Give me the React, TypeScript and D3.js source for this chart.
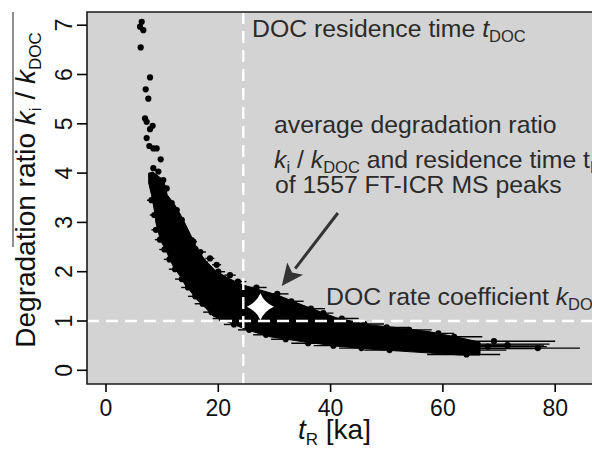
import * as d3 from 'd3';

// FT-ICR MS peaks: degradation ratio vs residence time
const tTicks = [0, 20, 40, 60, 80];
const ratioTicks = [0, 1, 2, 3, 4, 5, 6, 7];

const tDOC = 24.45; // DOC residence time (ka)
const kRef = 1; // DOC rate coefficient ratio
const starPeak = [27.5, 1.29]; // average of all peaks
const arrowFrom = [41.3, 3.19];
const arrowTo = [31.3, 1.71];

// dense core of the point cloud: top/right edge and bottom/left edge
const bandUpper = [
  [8.37, 4.02], [10.3, 3.85], [10.9, 3.56], [12.3, 3.35], [13.5, 3.11],
  [14.8, 2.81], [16.1, 2.5], [17.6, 2.24], [19.41, 2.03], [21.73, 1.87],
  [24.4, 1.73], [27.43, 1.63], [30.45, 1.53], [35.08, 1.32], [41.14, 1.06],
  [47.02, 0.92], [52.36, 0.86], [57.7, 0.78], [63.05, 0.66], [66.61, 0.57],
];
const bandLower = [
  [7.6, 4.0], [7.6, 3.8], [8.1, 3.56], [8.6, 3.25], [8.9, 2.99],
  [9.7, 2.64], [10.8, 2.4], [12.0, 2.1], [13.2, 1.91], [14.1, 1.73],
  [15.0, 1.61], [16.21, 1.43], [17.63, 1.28], [19.06, 1.1], [20.84, 1.02],
  [22.97, 0.92], [25.11, 0.82], [29.21, 0.68], [35.08, 0.58], [41.14, 0.49],
  [47.02, 0.43], [52.36, 0.39], [57.7, 0.35], [63.05, 0.31], [66.61, 0.31],
];

// single peaks: [t, ratio, tLow, tHigh]
const outerPeaks = [
  [6.36, 7.07, 6.1, 6.6], [6.06, 6.97, 5.8, 6.3], [6.65, 6.9, 6.4, 6.9],
  [6.18, 6.55, 5.9, 6.4], [7.84, 5.94, 7.6, 8.1], [7.07, 5.7, 6.8, 7.3],
  [7.54, 5.51, 7.3, 7.8], [6.95, 5.11, 6.7, 7.2], [7.24, 5.04, 7.0, 7.5],
  [8.31, 4.96, 8.0, 8.6], [7.84, 4.89, 7.6, 8.1], [7.24, 4.71, 7.0, 7.5],
  [7.72, 4.55, 7.4, 8.0], [8.43, 4.5, 8.1, 8.7], [9.02, 4.5, 8.7, 9.3],
  [9.74, 4.28, 9.4, 10.1], [8.43, 4.1, 8.1, 8.8], [9.32, 4.03, 8.9, 9.7],
  [8.13, 3.93, 7.7, 8.5], [10.2, 3.86, 9.8, 10.6], [10.81, 3.69, 10.4, 11.2],
  [11.7, 3.39, 11.3, 12.1], [12.59, 3.25, 12.1, 13.1], [13.48, 3.05, 13.0, 14.0],
  [13.18, 2.85, 12.6, 13.8], [15.26, 2.64, 14.6, 15.9], [15.85, 2.47, 15.2, 16.5],
  [15.55, 2.61, 14.9, 16.2], [18.52, 2.27, 17.7, 19.3], [19.71, 2.14, 18.9, 20.5],
  [17.33, 2.2, 16.6, 18.1], [22.08, 1.93, 21.1, 23.1],
];
const edgePeaks = [
  [8.1, 3.45, 7.3, 8.9], [8.6, 3.15, 7.8, 9.4], [8.9, 2.85, 8.1, 9.8],
  [9.6, 2.65, 8.7, 10.5], [10.4, 2.45, 9.5, 11.3], [11.3, 2.25, 10.3, 12.3],
  [12.3, 2.05, 11.2, 13.4], [13.5, 1.85, 12.3, 14.7], [14.6, 1.68, 13.4, 15.8],
  [15.9, 1.5, 14.6, 17.2], [17.2, 1.35, 15.8, 18.6], [18.8, 1.18, 17.3, 20.3],
  [20.6, 1.05, 19.0, 22.2], [22.8, 0.93, 21.0, 24.6], [25.5, 0.82, 23.5, 27.5],
  [28.5, 0.72, 26.2, 30.8], [32.0, 0.63, 29.4, 34.6], [36.0, 0.55, 33.0, 39.0],
  [40.5, 0.5, 37.0, 44.0], [45.5, 0.45, 41.5, 49.5], [50.5, 0.41, 46.0, 55.0],
  [16.8, 2.4, 15.8, 17.8], [20.0, 2.0, 18.8, 21.2], [23.5, 1.8, 22.0, 25.0],
  [26.8, 1.68, 25.0, 28.6], [30.5, 1.55, 28.5, 32.5], [33.0, 1.4, 30.8, 35.2],
  [36.5, 1.25, 34.0, 39.0], [38.7, 1.16, 34.0, 40.5], [34.5, 1.02, 30.5, 38.5],
  [42.0, 1.05, 39.0, 45.0], [46.0, 0.94, 42.5, 49.5], [50.0, 0.87, 46.0, 54.0],
  [54.0, 0.82, 50.0, 58.0], [59.2, 0.75, 54.8, 62.0], [62.0, 0.68, 57.0, 67.0],
  [64.2, 0.32, 57.2, 70.2], [69.1, 0.59, 61.3, 80.0], [76.9, 0.45, 65.7, 84.4],
  [64.2, 0.41, 57.2, 71.3], [66.0, 0.53, 59.0, 79.0], [68.0, 0.48, 60.5, 78.5],
  [63.0, 0.44, 56.0, 77.5], [60.5, 0.5, 54.0, 72.0], [71.5, 0.51, 63.8, 78.0],
];

const W = 592;
const H = 450;
const panel = { left: 87, top: 12, right: 600, bottom: 384 };
const font = '"Liberation Sans", Arial, Helvetica, sans-serif';

export default function App() {
  const x = d3.scaleLinear().domain([0, 80]).range([106, 555.2]);
  const y = d3.scaleLinear().domain([0, 7]).range([370.3, 25.2]);

  const outline = [...bandUpper, ...bandLower.slice().reverse()];
  const bandPath = d3.line().x((d) => x(d[0])).y((d) => y(d[1]))(outline) + 'Z';
  const peaks = [...edgePeaks, ...outerPeaks];

  // 4-point star for the mean peak
  const r = 13.5;
  const c = 4;
  const star = `M0,${-r}Q${c},${-c} ${r},0Q${c},${c} 0,${r}Q${-c},${c} ${-r},0Q${-c},${-c} 0,${-r}Z`;

  // arrow
  const ax0 = x(arrowFrom[0]);
  const ay0 = y(arrowFrom[1]);
  const ax1 = x(arrowTo[0]);
  const ay1 = y(arrowTo[1]);
  const ang = Math.atan2(ay1 - ay0, ax1 - ax0);
  const headLen = 22;
  const headW = 10;
  const bx = ax1 - headLen * Math.cos(ang);
  const by = ay1 - headLen * Math.sin(ang);
  const head = [
    [ax1, ay1],
    [bx + headW * Math.sin(ang), by - headW * Math.cos(ang)],
    [bx + 5 * Math.cos(ang), by + 5 * Math.sin(ang)],
    [bx - headW * Math.sin(ang), by + headW * Math.cos(ang)],
  ];

  return (
    <svg
      width={W}
      height={H}
      style={{ position: 'absolute', left: 0, top: 0, background: '#fff' }}
      fontFamily={font}
    >
      <rect
        x={panel.left}
        y={panel.top}
        width={panel.right - panel.left}
        height={panel.bottom - panel.top}
        fill="#d3d3d3"
      />

      <path d={bandPath} fill="#000" stroke="#000" strokeWidth={1} />
      {peaks.map((p, i) => (
        <g key={i}>
          <line x1={x(p[2])} x2={x(p[3])} y1={y(p[1])} y2={y(p[1])} stroke="#000" strokeWidth={1.4} />
          <circle cx={x(p[0])} cy={y(p[1])} r={3.1} fill="#000" />
        </g>
      ))}

      <line
        x1={x(tDOC)}
        x2={x(tDOC)}
        y1={panel.top}
        y2={panel.bottom}
        stroke="#fff"
        strokeWidth={2.4}
        strokeDasharray="12,7"
      />
      <line
        x1={panel.left}
        x2={panel.right}
        y1={y(kRef)}
        y2={y(kRef)}
        stroke="#fff"
        strokeWidth={2.4}
        strokeDasharray="12,7"
      />

      <path d={star} transform={`translate(${x(starPeak[0])},${y(starPeak[1])})`} fill="#fff" />

      <line x1={ax0} y1={ay0} x2={bx} y2={by} stroke="#333" strokeWidth={3} />
      <polygon points={head.map((d) => d.join(',')).join(' ')} fill="#333" />

      {/* panel frame */}
      <path
        d={`M${panel.right},${panel.top}H${panel.left}V${panel.bottom}H${panel.right}`}
        fill="none"
        stroke="#1a1a1a"
        strokeWidth={1.6}
      />
      <line x1={13} x2={13} y1={12} y2={247} stroke="#444" strokeWidth={1.2} />

      {/* x axis */}
      {tTicks.map((t) => (
        <g key={t} transform={`translate(${x(t)},0)`}>
          <line y1={panel.bottom} y2={panel.bottom + 8} stroke="#000" strokeWidth={1.6} />
          <text y={416} textAnchor="middle" fontSize={23} fill="#111">
            {t}
          </text>
        </g>
      ))}
      <text x={298} y={439} fontSize={28} fill="#111">
        <tspan fontStyle="italic">t</tspan>
        <tspan fontSize={17} dy={6}>R</tspan>
        <tspan dy={-6}> [ka]</tspan>
      </text>

      {/* y axis */}
      {ratioTicks.map((v) => (
        <g key={v} transform={`translate(0,${y(v)})`}>
          <line x1={panel.left - 10} x2={panel.left} stroke="#000" strokeWidth={1.6} />
          <text transform="translate(72,0) rotate(-90)" textAnchor="middle" fontSize={23} fill="#111">
            {v}
          </text>
        </g>
      ))}
      <text transform="translate(35,190) rotate(-90)" textAnchor="middle" fontSize={28} fill="#111">
        Degradation ratio <tspan fontStyle="italic">k</tspan>
        <tspan fontSize={17} dy={6}>i</tspan>
        <tspan dy={-6}> / </tspan>
        <tspan fontStyle="italic">k</tspan>
        <tspan fontSize={17} dy={6}>DOC</tspan>
      </text>

      {/* annotations */}
      <g fontSize={24.8} fill="#2b2b2b">
        <text x={252} y={37}>
          DOC residence time <tspan fontStyle="italic">t</tspan>
          <tspan fontSize={16.5} dy={5}>DOC</tspan>
        </text>
        <text x={274} y={133}>average degradation ratio</text>
        <text x={274} y={168}>
          <tspan fontStyle="italic">k</tspan>
          <tspan fontSize={16.5} dy={5}>i</tspan>
          <tspan dy={-5}> / </tspan>
          <tspan fontStyle="italic">k</tspan>
          <tspan fontSize={16.5} dy={5}>DOC</tspan>
          <tspan dy={-5}> and residence time t</tspan>
          <tspan fontSize={16.5} dy={5}>R</tspan>
        </text>
        <text x={275} y={193}>of 1557 FT-ICR MS peaks</text>
        <text x={326} y={305}>
          DOC rate coefficient <tspan fontStyle="italic">k</tspan>
          <tspan fontSize={16.5} dy={5}>DOC</tspan>
        </text>
      </g>
    </svg>
  );
}
